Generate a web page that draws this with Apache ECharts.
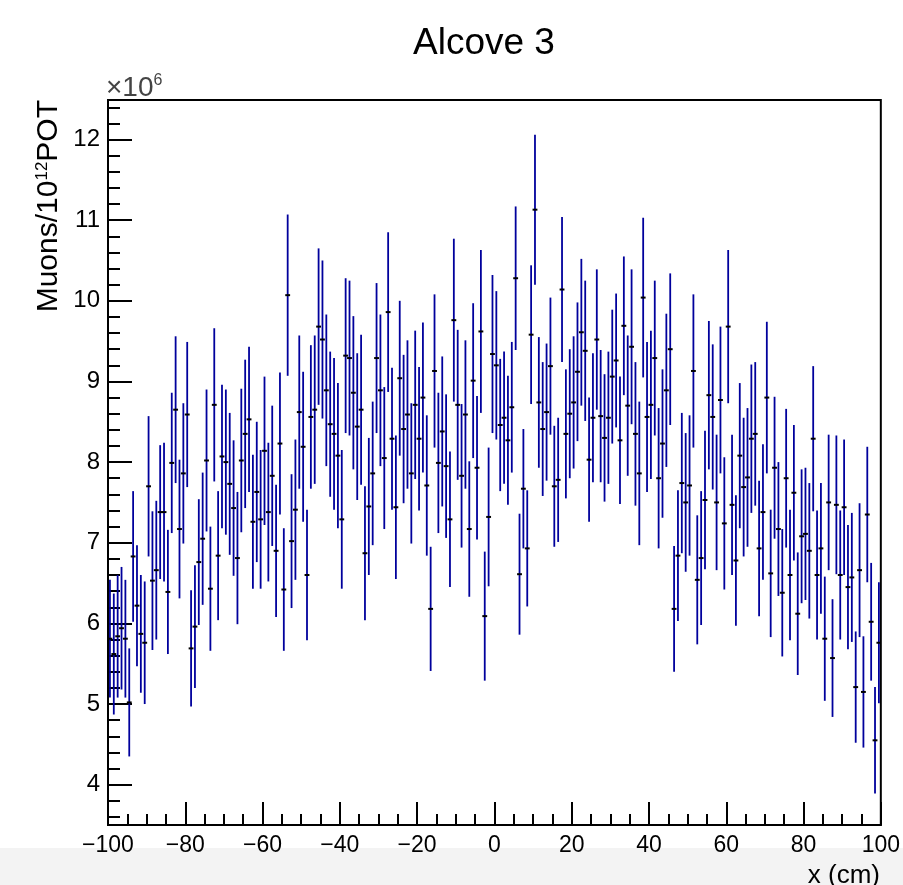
<!DOCTYPE html>
<html>
<head>
<meta charset="utf-8">
<title>Alcove 3</title>
<script src="https://cdn.jsdelivr.net/npm/echarts@6/dist/echarts.min.js"></script>
<style>
html,body{margin:0;padding:0;background:#fff;}
#chart{width:903px;height:885px;}
</style>
</head>
<body>
<div id="chart"></div>
<script>
// histogram: 200 bins of 1 cm from -100 to 100, values in units of 10^6
var xRange=[-100,100];
var xTicks=[-100,-80,-60,-40,-20,0,20,40,60,80,100];
var yRange=[3.5,12.49];
var yTicks=[4,5,6,7,8,9,10,11,12];

var muons=[
 5.81,5.62,5.84,5.94,5.81,5.02,6.83,6.22,5.87,5.76,
 7.70,6.53,6.66,7.38,7.38,6.39,7.99,8.65,7.17,7.86,
 8.59,5.69,5.96,6.76,7.05,8.02,6.43,8.71,6.84,8.07,
 8.00,7.73,7.43,6.81,8.02,8.35,8.53,7.26,7.63,7.29,
 8.14,7.38,7.83,6.90,8.23,6.42,10.07,7.02,7.41,8.62,
 8.19,6.60,8.56,8.65,9.68,9.52,8.89,8.47,8.35,8.08,
 7.29,9.32,9.29,8.86,8.44,8.65,6.87,7.45,7.86,9.29,
 8.89,8.05,9.86,8.29,7.44,9.04,8.41,8.59,7.86,8.71,
 8.29,8.80,7.71,6.18,9.13,7.99,8.38,7.95,7.29,9.76,
 8.71,7.83,8.59,7.17,9.01,7.93,9.62,6.09,7.32,9.34,
 9.20,8.46,8.55,8.27,8.68,10.28,6.61,7.67,6.93,9.58,
 11.13,8.74,8.41,8.62,9.19,7.70,7.78,10.14,8.35,8.60,
 8.74,9.12,9.61,9.38,8.03,8.55,9.52,8.57,8.30,8.55,
 9.06,9.26,8.27,9.69,8.70,9.43,8.35,7.86,10.04,8.56,
 8.71,9.29,7.80,8.23,8.89,9.40,6.18,6.84,7.74,7.50,
 7.71,9.13,6.54,6.81,7.53,8.83,8.56,7.50,8.77,7.24,
 9.68,7.47,6.78,8.08,7.69,7.81,8.29,8.35,6.93,7.38,
 8.80,6.62,7.93,7.17,6.38,7.80,6.60,7.62,6.12,7.08,
 7.11,6.90,8.29,6.60,6.93,5.81,7.50,5.57,7.47,6.60,
 7.44,6.45,6.57,5.21,6.66,5.15,7.35,6.02,4.55,5.76
];
var muonErr=[
 0.73,0.75,0.76,0.76,0.73,0.67,0.81,0.75,0.73,0.76,
 0.87,0.86,0.86,0.83,0.86,0.77,0.87,0.91,0.86,0.87,
 0.90,0.72,0.76,0.78,0.82,0.88,0.77,0.95,0.80,0.89,
 0.90,0.88,0.84,0.82,0.89,0.92,0.90,0.83,0.87,0.86,
 0.92,0.86,0.87,0.82,0.88,0.76,1.00,0.83,0.87,0.95,
 0.93,0.81,0.89,0.92,0.97,0.98,0.94,0.90,0.94,0.90,
 0.86,0.96,0.96,0.95,0.91,0.93,0.83,0.85,0.89,0.93,
 0.94,0.88,0.99,0.88,0.89,0.96,0.92,0.92,0.87,0.92,
 0.89,0.93,0.87,0.77,0.95,0.87,0.93,0.89,0.84,1.01,
 0.93,0.89,0.92,0.84,0.96,0.89,1.01,0.80,0.86,0.98,
 0.92,0.82,0.82,0.80,0.81,0.89,0.75,0.74,0.72,0.86,
 0.93,0.81,0.83,0.85,0.85,0.75,0.77,0.90,0.80,0.80,
 0.82,0.86,0.91,0.87,0.77,0.80,0.87,0.82,0.79,0.82,
 0.83,0.83,0.79,0.86,0.87,0.96,0.89,0.89,0.99,0.93,
 0.92,0.96,0.87,0.92,0.95,0.94,0.78,0.81,0.87,0.86,
 0.87,0.95,0.80,0.83,0.86,0.92,0.90,0.84,0.91,0.82,
 0.95,0.87,0.81,0.90,0.86,0.86,0.92,0.89,0.84,0.84,
 0.94,0.79,0.88,0.83,0.79,0.86,0.81,0.84,0.76,0.83,
 0.82,0.84,0.90,0.80,0.81,0.77,0.84,0.73,0.86,0.80,
 0.84,0.77,0.80,0.69,0.83,0.69,0.84,0.73,0.66,0.75
];

var binW=(xRange[1]-xRange[0])/muons.length;
var points=muons.map(function(v,i){
    return [xRange[0]+(i+0.5)*binW, v, muonErr[i]];
});

// y minor ticks every 0.2 between the frame edges (not on the majors)
var yMinor=[];
for (var t=36;t<=124;t+=2){
    if (t%10!=0) yMinor.push(t/10);
}

var font='"Liberation Sans", Arial, Helvetica, sans-serif';

function errBar(params,api) {
    var x=api.value(0), y=api.value(1), e=api.value(2);
    var top=api.coord([x,y+e]);
    var bot=api.coord([x,y-e]);
    var l=api.coord([x-binW/2,y]);
    var r=api.coord([x+binW/2,y]);
    return {
        type:'group',
        children:[
            {type:'line',shape:{x1:top[0],y1:top[1],x2:bot[0],y2:bot[1]},
             style:{stroke:'#00009c',lineWidth:1.8}},
            {type:'line',shape:{x1:l[0]-0.5,y1:l[1],x2:r[0]+0.5,y2:r[1]},
             style:{stroke:'#000000',lineWidth:2}}
        ]
    };
}

var chart=echarts.init(document.getElementById('chart'));
var option={
    backgroundColor:'#ffffff',
    animation:false,
    title:{
        text:'Alcove 3',
        left:408,
        top:20,
        textStyle:{fontFamily:font,fontSize:37,fontWeight:'normal',color:'#000'}
    },
    grid:{
        left:108,right:19,top:100,bottom:60,
        show:true,borderColor:'#000',borderWidth:2,backgroundColor:'transparent'
    },
    xAxis:{
        type:'value',
        min:xRange[0],max:xRange[1],interval:20,
        axisLine:{show:true,onZero:false,lineStyle:{color:'#000',width:2}},
        axisTick:{show:true,inside:true,length:23,lineStyle:{color:'#000',width:2}},
        minorTick:{show:true,splitNumber:4,length:11,lineStyle:{color:'#000',width:2}},
        splitLine:{show:false},
        axisLabel:{
            customValues:xTicks,
            margin:9,fontFamily:font,fontSize:23,color:'#000',
            formatter:function(v){return String(v).replace('-','\u2212');}
        }
    },
    yAxis:[{
        type:'value',
        min:yRange[0],max:yRange[1],
        position:'left',
        axisLine:{show:true,onZero:false,lineStyle:{color:'#000',width:2}},
        axisTick:{show:true,inside:true,length:24,customValues:yTicks,lineStyle:{color:'#000',width:2}},
        splitLine:{show:false},
        axisLabel:{customValues:yTicks,margin:8,fontFamily:font,fontSize:24,color:'#000'}
    },{
        type:'value',
        min:yRange[0],max:yRange[1],
        position:'left',
        axisLine:{show:false,onZero:false},
        axisTick:{show:true,inside:true,length:12,customValues:yMinor,lineStyle:{color:'#000',width:2}},
        splitLine:{show:false},
        axisLabel:{show:false}
    }],
    graphic:[
        {type:'rect',silent:true,z:-10,
         shape:{x:0,y:848,width:903,height:37},style:{fill:'#f3f3f3'}},
        {type:'text',x:49,y:100,rotation:Math.PI/2,
         style:{text:'Muons/10{sup|12}POT',align:'right',verticalAlign:'middle',
                fontFamily:font,fontSize:30,fill:'#000',
                rich:{sup:{fontFamily:font,fontSize:17,verticalAlign:'top',lineHeight:30,fill:'#000'}}}},
        {type:'text',x:106,y:88,
         style:{text:'\u00d710{sup|6}',align:'left',verticalAlign:'middle',
                fontFamily:font,fontSize:28,fill:'#444',
                rich:{sup:{fontFamily:font,fontSize:16,verticalAlign:'top',lineHeight:30,fill:'#444'}}}},
        {type:'text',x:880,y:876,
         style:{text:'x (cm)',align:'right',verticalAlign:'middle',
                fontFamily:font,fontSize:26,fill:'#000'}}
    ],
    series:[{
        type:'custom',
        renderItem:errBar,
        encode:{x:0,y:1},
        data:points,
        clip:true
    }]
};
chart.setOption(option);
</script>
</body>
</html>
